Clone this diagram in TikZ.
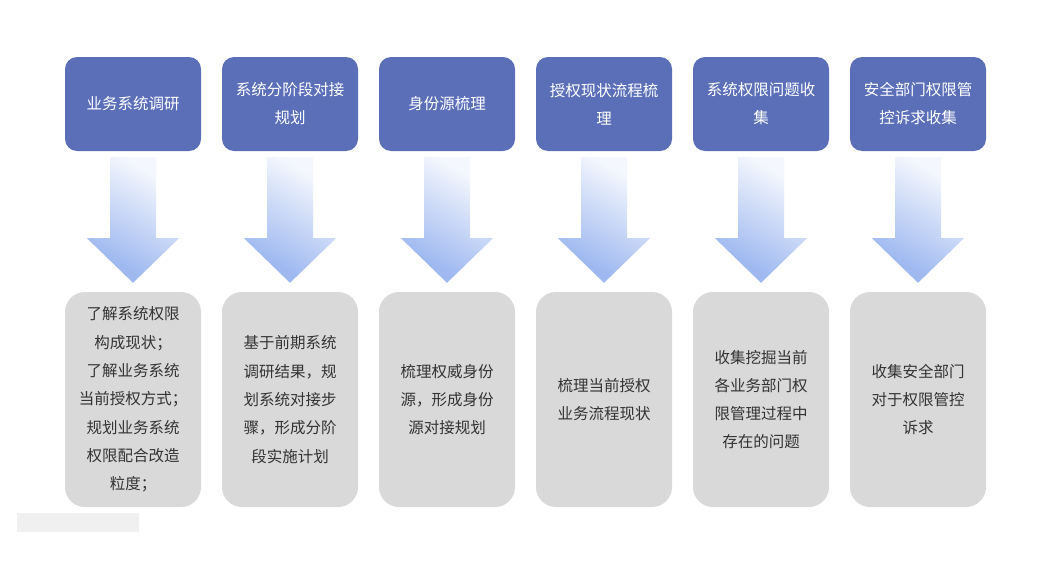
\documentclass[tikz,border=0pt]{standalone}
\usepackage{fontspec}
\setmainfont{Noto Sans CJK SC}
\usetikzlibrary{calc}
\definecolor{topblue}{HTML}{5B6FB9}
\definecolor{boxgray}{HTML}{D9D9D9}
\definecolor{txtgray}{HTML}{333333}
\definecolor{arrT}{HTML}{F4F7FD}
\definecolor{arrB}{HTML}{9FB9F0}
\pgfdeclarehorizontalshading{arrowsh}{100bp}{color(0bp)=(arrB); color(30bp)=(arrB); color(72bp)=(arrT); color(100bp)=(arrT)}
\begin{document}
\begin{tikzpicture}[x=1pt,y=-1pt,
  topbox/.style={rectangle, rounded corners=12pt, fill=topblue, text=white,
    minimum width=136pt, minimum height=94pt, inner sep=0pt, align=center,
    font=\fontsize{15.5}{28}\selectfont},
  botbox/.style={rectangle, rounded corners=20pt, fill=boxgray, text=txtgray,
    minimum width=136pt, minimum height=215pt, inner sep=0pt, align=center,
    font=\fontsize{15.5}{28.3}\selectfont},
  arrowshape/.style={shading=arrowsh, shading angle=60, draw=none}]
\useasboundingbox (0,0) rectangle (1041,573);
\fill[white] (0,0) rectangle (1041,573);
\fill[black!6] (17,513) rectangle (139,532);
% top boxes
\node[topbox] (t1) at (133,104) {业务系统调研};
\node[topbox] (t2) at (290,104) {系统分阶段对接\\规划};
\node[topbox] (t3) at (447,104) {身份源梳理};
\node[topbox] (t4) at (604,104) {授权现状流程梳\\理};
\node[topbox] (t5) at (761,104) {系统权限问题收\\集};
\node[topbox] (t6) at (918,104) {安全部门权限管\\控诉求收集};
% bottom boxes
\node[botbox] (b1) at (133,399.5) {了解系统权限\\构成现状；\\了解业务系统\\当前授权方式；\\规划业务系统\\权限配合改造\\粒度；};
\node[botbox] (b2) at (290,399.5) {基于前期系统\\调研结果，规\\划系统对接步\\骤，形成分阶\\段实施计划};
\node[botbox] (b3) at (447,399.5) {梳理权威身份\\源，形成身份\\源对接规划};
\node[botbox] (b4) at (604,399.5) {梳理当前授权\\业务流程现状};
\node[botbox] (b5) at (761,399.5) {收集挖掘当前\\各业务部门权\\限管理过程中\\存在的问题};
\node[botbox] (b6) at (918,399.5) {收集安全部门\\对于权限管控\\诉求};
% arrows
\foreach \i in {1,...,6}{
  \shade[arrowshape]
    ($(t\i.south)+(-23,6)$) -- ($(t\i.south)+(23,6)$) -- ($(t\i.south)+(23,87)$)
    -- ($(t\i.south)+(46,87)$) -- ($(b\i.north)+(0,-9)$) -- ($(t\i.south)+(-46,87)$)
    -- ($(t\i.south)+(-23,87)$) -- cycle;
}
\end{tikzpicture}
\end{document}
